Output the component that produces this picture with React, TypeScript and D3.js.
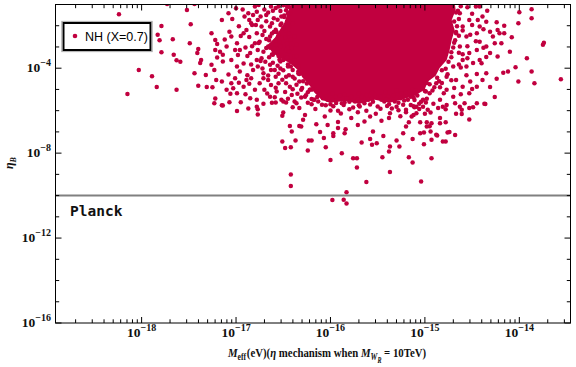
import React from 'react';
import * as d3 from 'd3';

const W = 576;
const H = 367;
const plot = { left: 55.5, right: 570.5, top: 4.5, bottom: 323 };

// axis ranges as decades (log10)
const xDomainExp = [-18.912, -13.458];
const yDomainExp = [-16, -1];
const xMajorExp = [-18, -17, -16, -15, -14];
const yTickExp = d3.range(-16, 0);
const yLabelExp = [-16, -12, -8, -4];
const minorMult = [2, 3, 4, 5, 6, 7, 8, 9];
const planckEta = 1e-10;
const legendLabel = 'NH (X=0.7)';
const dotColor = '#c1003f';

// saturated core of the scatter, outline as [log10 Meff, log10 etaB]
const coreOutline: [number, number][] = [
  [-16.41, -0.9], [-16.452, -1.35], [-16.484, -1.82], [-16.537, -2.2], [-16.589, -2.57],
  [-16.663, -2.9], [-16.621, -3.24], [-16.537, -3.52], [-16.431, -3.75], [-16.346, -4.08],
  [-16.293, -4.46], [-16.219, -4.83], [-16.156, -5.21], [-16.093, -5.49], [-16.007, -5.63],
  [-15.849, -5.54], [-15.69, -5.68], [-15.531, -5.49], [-15.373, -5.63], [-15.214, -5.44],
  [-15.108, -5.3], [-15.003, -5.02], [-14.971, -4.64], [-14.886, -4.36], [-14.844, -3.99],
  [-14.769, -3.61], [-14.738, -3.14], [-14.716, -2.67], [-14.685, -2.2], [-14.716, -1.73],
  [-14.674, -1.26], [-14.685, -0.9],
];

// points along the rim of the core
const coreRim: [number, number][] = [
  [-16.46, -1.1], [-16.49, -1.52], [-16.52, -1.9], [-16.57, -2.3], [-16.65, -2.68],
  [-16.68, -3.05], [-16.62, -3.35], [-16.54, -3.6], [-16.42, -3.92], [-16.34, -4.25],
  [-16.29, -4.62], [-16.21, -5.0], [-16.14, -5.36], [-16.0, -5.7], [-15.85, -5.62],
  [-15.7, -5.74], [-15.55, -5.58], [-15.38, -5.7], [-15.22, -5.52], [-15.12, -5.38],
  [-14.99, -5.1], [-14.95, -4.75], [-14.87, -4.45], [-14.82, -4.1], [-14.75, -3.7],
  [-14.72, -3.25], [-14.69, -2.8], [-14.67, -2.3], [-14.69, -1.8], [-14.65, -1.3],
];

// individual points [log10 Meff, log10 etaB]
const leftTail: [number, number][] = [
  [-18.24, -1.46], [-17.79, -2.01], [-17.83, -2.43], [-17.81, -2.68], [-17.79, -3.25],
  [-17.67, -2.64], [-17.66, -3.37], [-17.63, -3.62], [-17.59, -3.7], [-18.03, -4.09],
  [-17.89, -4.38], [-17.84, -4.89], [-17.63, -5.02], [-18.15, -5.22], [-17.52, -1.26],
  [-17.48, -1.93], [-17.49, -2.82], [-17.4, -3.09], [-17.41, -3.29], [-17.44, -4.24],
  [-17.37, -3.61], [-17.38, -3.76], [-17.4, -4.83], [-17.31, -4.89], [-17.32, -4.32],
  [-17.26, -3.84], [-17.23, -4.08], [-17.22, -5.43], [-17.14, -5.76], [-17.26, -2.35],
  [-17.22, -2.67], [-17.2, -2.86], [-17.22, -3.14], [-17.17, -3.22], [-17.14, -3.37],
  [-17.1, -2.98], [-17.08, -1.41], [-17.15, -1.73], [-17.07, -2.28], [-17.05, -2.51],
  [-16.99, -2.82], [-17.01, -3.14], [-16.96, -3.14], [-16.92, -2.35], [-16.89, -2.2],
  [-16.91, -1.57], [-16.87, -1.41], [-16.8, -1.1], [-16.82, -1.49], [-17.05, -3.61],
  [-17.14, -3.69], [-16.99, -3.92], [-16.96, -4.16], [-17.01, -4.47], [-17.05, -4.71],
  [-17.21, -4.55], [-17.15, -4.63], [-17.1, -5.02], [-17.03, -4.94], [-16.99, -5.18],
  [-16.89, -4.55], [-16.92, -4.87], [-16.84, -4.47], [-16.8, -5.02], [-16.85, -5.41],
  [-16.78, -5.49], [-16.78, -5.81], [-16.82, -4.08], [-16.78, -3.61], [-16.85, -3.29],
  [-16.8, -2.82], [-16.78, -2.35], [-16.84, -1.88], [-17.23, -5.65], [-17.15, -5.74],
  [-17.07, -5.6], [-16.99, -6.02], [-17.73, -0.98], [-17.44, -0.98],
  [-17.0, -1.18], [-16.93, -1.24], [-17.04, -1.68], [-16.86, -1.73], [-16.97, -2.03],
  [-16.83, -1.97], [-16.95, -2.48], [-16.86, -2.53], [-17.12, -2.65], [-16.9, -3.03],
  [-16.83, -2.97], [-16.98, -3.38], [-16.88, -3.43], [-16.92, -3.78], [-16.84, -3.83],
  [-17.08, -4.3], [-16.88, -4.33], [-16.97, -4.68], [-16.86, -4.73], [-17.06, -5.2],
  [-16.9, -5.23], [-16.95, -5.6], [-16.87, -5.9], [-17.2, -3.5], [-17.25, -4.9],
];

const innerLeft: [number, number][] = [
  [-16.78, -1.34], [-16.77, -1.73], [-16.73, -2.04], [-16.75, -2.75], [-16.77, -3.14],
  [-16.73, -3.53], [-16.77, -3.92], [-16.71, -4.24], [-16.75, -4.71], [-16.66, -4.55],
  [-16.7, -5.02], [-16.64, -5.34], [-16.68, -1.49], [-16.62, -1.88], [-16.64, -2.51],
  [-16.66, -2.98], [-16.61, -3.37], [-16.64, -3.84], [-16.59, -4.08], [-16.55, -4.71],
  [-16.57, -5.1], [-16.52, -5.49], [-16.55, -1.1], [-16.52, -1.57], [-16.48, -2.2],
  [-16.54, -2.75], [-16.47, -3.14], [-16.5, -3.61], [-16.45, -3.92], [-16.47, -4.4],
  [-16.43, -4.87], [-16.41, -5.26], [-16.38, -5.57], [-16.43, -1.41], [-16.4, -1.88],
  [-16.38, -2.51], [-16.36, -2.9], [-16.38, -3.45], [-16.34, -4.16], [-16.33, -4.63],
  [-16.31, -5.02], [-16.27, -5.34], [-16.6, -2.3], [-16.58, -2.7], [-16.56, -3.1],
  [-16.52, -3.4], [-16.48, -2.55], [-16.45, -3.0], [-16.42, -3.7], [-16.4, -4.4],
  [-16.5, -4.1], [-16.58, -4.4], [-16.46, -1.8], [-16.44, -2.05], [-16.7, -2.25],
  [-16.69, -3.7], [-16.61, -1.3],
  [-16.76, -1.02], [-16.63, -1.09], [-16.5, -1.04], [-16.44, -1.12], [-16.7, -1.24],
  [-16.58, -1.17], [-16.47, -1.27], [-16.66, -1.38], [-16.53, -1.31], [-16.45, -1.42],
  [-16.74, -1.57], [-16.6, -1.65], [-16.49, -1.59], [-16.68, -1.79], [-16.56, -1.72],
  [-16.44, -1.8], [-16.79, -1.96], [-16.64, -2.04], [-16.53, -1.97], [-16.46, -2.06],
  [-16.58, -2.19], [-16.5, -2.13], [-16.72, -2.44], [-16.62, -2.36], [-16.55, -2.45],
  [-16.44, -2.37], [-16.68, -2.63], [-16.52, -2.58], [-16.42, -2.66], [-16.76, -2.81],
  [-16.58, -2.89], [-16.46, -2.83], [-16.64, -3.04], [-16.53, -2.97], [-16.41, -3.05],
  [-16.71, -3.22], [-16.6, -3.29], [-16.44, -3.21], [-16.65, -3.49], [-16.55, -3.42],
  [-16.46, -3.5], [-16.36, -3.43], [-16.74, -3.66], [-16.61, -3.74], [-16.53, -3.68],
  [-16.38, -3.75], [-16.56, -3.88], [-16.45, -3.82], [-16.34, -3.9], [-16.72, -4.02],
  [-16.63, -4.09], [-16.53, -4.01], [-16.4, -4.08], [-16.66, -4.34], [-16.55, -4.26],
  [-16.44, -4.33], [-16.33, -4.27], [-16.27, -4.36], [-16.71, -4.47], [-16.51, -4.54],
  [-16.38, -4.49], [-16.63, -4.79], [-16.47, -4.71], [-16.36, -4.78], [-16.25, -4.72],
  [-16.58, -4.92], [-16.4, -4.99], [-16.3, -4.93], [-16.19, -5.0], [-16.67, -5.19],
  [-16.48, -5.12], [-16.35, -5.2], [-16.24, -5.13], [-16.59, -5.37], [-16.45, -5.44],
  [-16.31, -5.38], [-16.2, -5.45], [-16.62, -5.63], [-16.5, -5.57], [-16.36, -5.65],
];

const lowerBand: [number, number][] = [
  [-16.22, -5.02], [-16.17, -5.49], [-16.1, -5.26], [-16.03, -5.49], [-15.95, -5.34],
  [-15.88, -5.65], [-15.81, -5.41], [-15.74, -5.57], [-15.67, -5.34], [-15.6, -5.49],
  [-15.53, -5.26], [-15.46, -5.49], [-15.39, -5.34], [-15.32, -5.57], [-15.25, -5.18],
  [-15.18, -5.49], [-15.13, -5.02], [-16.12, -5.15], [-15.98, -5.2], [-15.85, -5.25],
  [-15.7, -5.2], [-15.56, -5.15], [-15.42, -5.12], [-15.3, -5.05], [-16.05, -5.75],
  [-15.76, -5.85], [-15.5, -5.8], [-15.35, -5.9], [-15.92, -6.0], [-16.2, -5.7],
  [-16.71, -5.68], [-16.77, -5.93], [-16.77, -6.18], [-16.58, -5.62], [-16.5, -6.09],
  [-16.51, -6.24], [-16.47, -5.62], [-16.4, -5.84], [-16.33, -5.88], [-16.27, -6.2],
  [-16.29, -6.43], [-16.31, -6.75], [-16.43, -6.72], [-16.41, -6.98], [-16.33, -6.72],
  [-16.15, -6.64], [-16.11, -7.01], [-16.03, -6.67], [-15.97, -7.06], [-15.97, -7.19],
  [-15.92, -6.82], [-15.84, -6.87], [-15.85, -7.06], [-15.71, -6.67], [-15.64, -6.51],
  [-15.58, -7.34], [-15.55, -6.98], [-15.44, -7.19], [-15.3, -7.41], [-15.23, -7.06],
  [-15.2, -6.75], [-15.13, -7.34], [-15.05, -7.06], [-15.01, -7.03], [-14.98, -6.75],
  [-14.93, -7.37], [-14.93, -6.59], [-14.88, -7.14], [-14.81, -7.45], [-14.76, -7.03],
  [-16.15, -5.08], [-15.2, -5.13], [-15.0, -5.07], [-16.26, -5.27], [-16.05, -5.34],
  [-15.9, -5.28], [-15.78, -5.35], [-15.62, -5.26], [-15.47, -5.33], [-15.33, -5.27],
  [-15.15, -5.34], [-15.08, -5.28], [-16.18, -5.48], [-16.08, -5.42], [-15.98, -5.5],
  [-15.83, -5.43], [-15.71, -5.49], [-15.56, -5.41], [-15.4, -5.47], [-15.26, -5.42],
  [-15.11, -5.5], [-14.98, -5.44], [-16.24, -5.63], [-16.13, -5.57], [-15.94, -5.64],
  [-15.8, -5.58], [-15.64, -5.65], [-15.43, -5.57], [-15.28, -5.63], [-15.04, -5.58],
  [-16.09, -5.72], [-15.97, -5.79], [-15.86, -5.73], [-15.69, -5.8], [-15.58, -5.71],
  [-15.4, -5.78], [-15.23, -5.72], [-15.12, -5.79], [-16.16, -5.92], [-16.0, -5.99],
  [-15.8, -5.93], [-15.62, -6.0], [-15.47, -5.91], [-15.28, -5.98], [-15.06, -5.92],
  [-15.89, -6.13], [-15.71, -6.07], [-15.52, -6.15], [-15.2, -6.08], [-15.0, -6.14],
  [-16.06, -6.27], [-15.78, -6.34], [-15.58, -6.28], [-15.38, -6.35], [-15.26, -6.26],
  [-15.92, -6.53], [-15.46, -6.47], [-15.17, -6.54], [-14.9, -4.9], [-14.84, -4.9],
  [-14.98, -4.7], [-14.82, -4.7], [-15.1, -5.05], [-14.92, -5.05],
];

const lowerTail: [number, number][] = [
  [-16.51, -7.45], [-16.48, -7.76], [-16.42, -7.72], [-16.37, -7.41], [-16.23, -7.41],
  [-16.2, -7.41], [-16.24, -7.88], [-16.07, -7.29], [-16.05, -7.72], [-15.88, -8.0],
  [-16.0, -8.32], [-15.76, -8.24], [-15.72, -8.24], [-15.72, -8.68], [-15.67, -7.5],
  [-15.51, -7.53], [-15.56, -7.61], [-15.37, -7.69], [-15.38, -7.92], [-15.45, -8.19],
  [-15.37, -8.89], [-15.27, -7.69], [-15.17, -8.19], [-15.13, -8.44], [-14.93, -8.24],
  [-15.04, -9.34], [-15.62, -9.36], [-15.83, -9.84], [-15.98, -10.21], [-15.86, -10.2],
  [-15.83, -10.37], [-16.42, -9.01], [-16.42, -9.55], [-14.78, -7.45], [-15.01, -7.58],
];

const rightSide: [number, number][] = [
  [-14.0, -1.36], [-13.87, -1.22], [-13.87, -1.65], [-14.01, -1.88], [-14.16, -2.0],
  [-14.24, -1.84], [-14.35, -1.81], [-14.39, -1.57], [-14.34, -1.3], [-14.42, -1.1],
  [-14.46, -1.1], [-14.23, -2.2], [-14.16, -2.35], [-14.21, -2.35], [-14.08, -2.54],
  [-14.28, -2.51], [-14.31, -2.28], [-14.42, -2.04], [-14.45, -2.35], [-14.42, -2.75],
  [-14.35, -2.98], [-14.26, -2.82], [-14.19, -2.82], [-14.31, -3.29], [-14.23, -3.45],
  [-14.1, -3.22], [-13.92, -3.53], [-13.75, -2.9], [-13.74, -2.8], [-13.56, -4.52],
  [-13.84, -4.71], [-13.87, -4.16], [-14.01, -4.63], [-14.04, -3.95], [-14.12, -4.16],
  [-14.17, -4.21], [-14.24, -4.5], [-14.31, -4.89], [-14.26, -5.36], [-14.37, -5.68],
  [-14.39, -4.55], [-14.35, -4.24], [-14.45, -4.87], [-14.53, -5.18], [-14.45, -5.65],
  [-14.56, -3.92], [-14.49, -3.76], [-14.42, -3.61], [-14.45, -3.14], [-14.53, -3.29],
  [-14.6, -3.61], [-14.63, -2.98], [-14.56, -2.51], [-14.6, -2.04], [-14.53, -1.73],
  [-14.63, -1.41], [-14.67, -2.35], [-14.7, -3.92], [-14.67, -4.55], [-14.6, -4.87],
  [-14.7, -5.34], [-14.77, -5.02], [-14.84, -5.49], [-14.61, -5.96], [-14.77, -4.4],
  [-14.88, -4.71], [-14.95, -5.18], [-15.02, -5.49], [-15.09, -5.81], [-15.2, -5.96],
  [-15.3, -5.81], [-15.37, -6.12], [-15.41, -5.49], [-14.91, -5.68], [-14.86, -5.88],
  [-14.81, -5.81], [-14.77, -5.73], [-14.78, -5.93], [-14.68, -5.65], [-14.63, -5.81],
  [-14.58, -5.65], [-14.53, -5.88], [-14.49, -5.84], [-14.36, -5.69], [-14.67, -6.15],
  [-14.61, -6.16], [-14.53, -6.42], [-14.84, -6.35], [-14.94, -6.09], [-15.09, -6.12],
  [-15.14, -6.28], [-15.05, -6.54], [-14.98, -6.54], [-14.84, -6.59], [-14.78, -6.54],
  [-14.95, -6.73], [-14.94, -6.98], [-14.87, -7.17], [-14.74, -7.01], [-14.68, -7.15],
  [-15.15, -5.73], [-15.11, -5.84], [-15.06, -5.68], [-15.02, -5.81], [-14.99, -5.62],
  [-15.12, -6.2], [-14.97, -5.96],
  [-14.62, -1.08], [-14.55, -1.13], [-14.67, -1.38], [-14.5, -1.43], [-14.64, -1.68],
  [-14.44, -1.73], [-14.66, -2.03], [-14.5, -1.97], [-14.6, -2.22], [-14.38, -2.17],
  [-14.64, -2.47], [-14.52, -2.42], [-14.68, -2.68], [-14.46, -2.73], [-14.7, -3.03],
  [-14.55, -2.97], [-14.38, -3.04], [-14.64, -3.27], [-14.6, -3.34], [-14.72, -3.48],
  [-14.55, -3.53], [-14.35, -3.47], [-14.64, -3.83], [-14.4, -3.77], [-14.78, -4.03],
  [-14.62, -3.97], [-14.76, -4.28], [-14.56, -4.33], [-14.45, -4.27], [-14.85, -4.62],
  [-14.72, -4.57], [-14.52, -4.63], [-14.69, -4.93], [-14.5, -4.98], [-14.8, -5.18],
  [-14.62, -5.23],
];

const allPoints = [...coreRim, ...leftTail, ...innerLeft, ...lowerBand, ...lowerTail, ...rightSide];

const x = d3.scaleLog()
  .domain(xDomainExp.map((e) => Math.pow(10, e)))
  .range([plot.left, plot.right]);
const y = d3.scaleLog()
  .domain(yDomainExp.map((e) => Math.pow(10, e)))
  .range([plot.bottom, plot.top]);

const xMinor: number[] = [];
d3.range(-19, -13).forEach((e) => {
  minorMult.forEach((m) => {
    const v = m * Math.pow(10, e);
    if (v > x.domain()[0] && v < x.domain()[1]) xMinor.push(v);
  });
});

const corePath = d3.line<[number, number]>()
  .x((d) => x(Math.pow(10, d[0])))
  .y((d) => y(Math.pow(10, d[1])))
  .curve(d3.curveLinearClosed)(coreOutline) as string;

const serif = 'Liberation Serif, Times New Roman, serif';

function Pow10({ xPos, yPos, exp, anchor }: { xPos: number; yPos: number; exp: number; anchor: 'end' | 'middle' }) {
  return (
    <text x={xPos} y={yPos} textAnchor={anchor} fontFamily={serif} fontWeight="bold" fontSize={13.5} fill="#111">
      <tspan>10</tspan>
      <tspan fontSize={10} dy={-6}>{'\u2212' + Math.abs(exp)}</tspan>
    </text>
  );
}

export default function App() {
  const tickStroke = '#000';
  return (
    <svg width={W} height={H} style={{ position: 'absolute', left: 0, top: 0, background: '#fff' }}>
      <defs>
        <clipPath id="plotClip">
          <rect x={plot.left} y={plot.top} width={plot.right - plot.left} height={plot.bottom - plot.top} />
        </clipPath>
      </defs>
      <rect x={0} y={0} width={W} height={H} fill="#fff" />

      <g clipPath="url(#plotClip)">
        <path d={corePath} fill={dotColor} />
        {allPoints.map((p, i) => (
          <circle key={i} cx={x(Math.pow(10, p[0]))} cy={y(Math.pow(10, p[1]))} r={2.25} fill={dotColor} />
        ))}
      </g>

      {/* Planck line */}
      <line x1={plot.left} x2={plot.right} y1={y(planckEta)} y2={y(planckEta)} stroke="#808080" strokeWidth={2} />
      <text x={70} y={216} fontFamily="DejaVu Sans Mono, monospace" fontWeight="bold" fontSize={14.5} fill="#111">Planck</text>

      {/* frame */}
      <rect x={plot.left} y={plot.top} width={plot.right - plot.left} height={plot.bottom - plot.top} fill="none" stroke="#000" strokeWidth={1} />

      {/* y ticks */}
      {yTickExp.map((e) => {
        const yy = y(Math.pow(10, e));
        const len = yLabelExp.includes(e) ? 6 : 3.7;
        return (
          <g key={'y' + e}>
            <line x1={plot.left} x2={plot.left + len} y1={yy} y2={yy} stroke={tickStroke} />
            <line x1={plot.right} x2={plot.right - len} y1={yy} y2={yy} stroke={tickStroke} />
          </g>
        );
      })}
      {yLabelExp.map((e) => (
        <Pow10 key={'yl' + e} xPos={51} yPos={y(Math.pow(10, e)) + 4} exp={e} anchor="end" />
      ))}

      {/* x ticks */}
      {xMajorExp.map((e) => {
        const xx = x(Math.pow(10, e));
        return (
          <g key={'x' + e}>
            <line x1={xx} x2={xx} y1={plot.bottom} y2={plot.bottom - 6} stroke={tickStroke} />
            <line x1={xx} x2={xx} y1={plot.top} y2={plot.top + 6} stroke={tickStroke} />
            <Pow10 xPos={xx} yPos={337} exp={e} anchor="middle" />
          </g>
        );
      })}
      {xMinor.map((v, i) => {
        const xx = x(v);
        return (
          <g key={'xm' + i}>
            <line x1={xx} x2={xx} y1={plot.bottom} y2={plot.bottom - 3.7} stroke={tickStroke} />
            <line x1={xx} x2={xx} y1={plot.top} y2={plot.top + 3.7} stroke={tickStroke} />
          </g>
        );
      })}

      {/* axis titles */}
      <g transform="translate(228,357) scale(0.8,1)">
        <text x={0} y={0} fontFamily={serif} fontWeight="bold" fontSize={13.5} fill="#111">
          <tspan fontStyle="italic">M</tspan>
          <tspan fontSize={9.5} dy={3}>eff</tspan>
          <tspan dy={-3} dx={1}>(eV)(</tspan>
          <tspan fontStyle="italic">η</tspan>
          <tspan> mechanism when </tspan>
          <tspan fontStyle="italic">M</tspan>
          <tspan fontSize={9.5} dy={3} fontStyle="italic">W</tspan>
          <tspan fontSize={7.5} dy={3} fontStyle="italic">R</tspan>
          <tspan dy={-6}> = 10TeV)</tspan>
        </text>
      </g>
      <text transform="translate(13,163) rotate(-90)" textAnchor="middle" fontFamily={serif} fontWeight="bold" fontSize={12} fill="#111">
        <tspan fontStyle="italic">η</tspan>
        <tspan fontSize={8} dy={3} fontStyle="italic">B</tspan>
      </text>

      {/* legend */}
      <rect x={63.5} y={23} width={87} height={27} fill="#fff" stroke="#000" strokeWidth={2} />
      <rect x={61.8} y={21.3} width={90.4} height={30.4} fill="none" stroke="#999" strokeWidth={0.8} />
      <circle cx={75} cy={36} r={2.3} fill={dotColor} />
      <text x={85} y={40.5} fontFamily="Liberation Sans, Arial, sans-serif" fontSize={12.5} fill="#000">{legendLabel}</text>
    </svg>
  );
}
